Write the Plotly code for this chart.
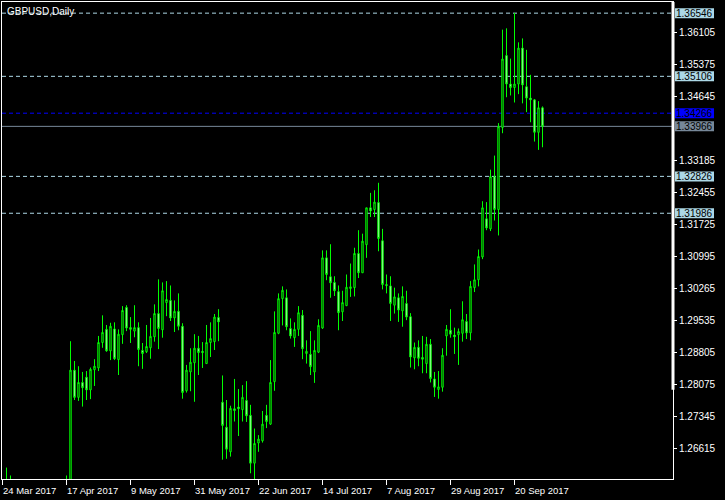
import plotly.graph_objects as go
import pandas as pd

# Daily bars (trading days) starting 24 Mar 2017
dates = [d.strftime("%Y-%m-%d") for d in pd.bdate_range("2017-03-24", periods=136)]

opens = [1.2475, 1.2485, 1.2575, 1.2445, 1.2415, 1.2465, 1.2550, 1.2490, 1.2435, 1.2480,
         1.2460, 1.2395, 1.2410, 1.2460, 1.2525, 1.2530, 1.2550, 1.2566, 1.2841, 1.2779,
         1.2813, 1.2825, 1.2796, 1.2842, 1.2846, 1.2904, 1.2934, 1.2885, 1.2935, 1.2865,
         1.2922, 1.2984, 1.2938, 1.2930, 1.2938, 1.2886, 1.2883, 1.2892, 1.2917, 1.2970,
         1.2933, 1.2995, 1.3000, 1.2960, 1.2975, 1.2941, 1.2794, 1.2837, 1.2858, 1.2891,
         1.2884, 1.2856, 1.2904, 1.2906, 1.2961, 1.2768, 1.2711, 1.2655, 1.2753, 1.2757,
         1.2751, 1.2772, 1.2738, 1.2629, 1.2675, 1.2680, 1.2738, 1.2718, 1.2815, 1.2925,
         1.3004, 1.3006, 1.2936, 1.2915, 1.2934, 1.2966, 1.2879, 1.2877, 1.2837, 1.2882,
         1.2937, 1.3097, 1.3054, 1.3041, 1.3020, 1.2974, 1.2988, 1.3027, 1.3029, 1.3107,
         1.3063, 1.3127, 1.3211, 1.3207, 1.3223, 1.3136, 1.3036, 1.3033, 1.2989, 1.3006,
         1.2976, 1.2993, 1.2963, 1.2869, 1.2893, 1.2870, 1.2856, 1.2900, 1.2821, 1.2797,
         1.2802, 1.2919, 1.2932, 1.2921, 1.2922, 1.2925, 1.2952, 1.2926, 1.3029, 1.3047,
         1.3099, 1.3186, 1.3163, 1.3282, 1.3207, 1.3394, 1.3558, 1.3493, 1.3485, 1.3493,
         1.3575, 1.3487, 1.3461, 1.3457, 1.3383, 1.3439]
highs = [1.2520, 1.2619, 1.2601, 1.2470, 1.2480, 1.2555, 1.2560, 1.2500, 1.2520, 1.2495,
         1.2470, 1.2420, 1.2480, 1.2535, 1.2585, 1.2560, 1.2601, 1.2907, 1.2862, 1.2850,
         1.2837, 1.2839, 1.2847, 1.2866, 1.2919, 1.2966, 1.2944, 1.2949, 1.2950, 1.2934,
         1.2987, 1.2989, 1.2962, 1.2989, 1.2950, 1.2903, 1.2944, 1.2960, 1.2991, 1.3048,
         1.3041, 1.3044, 1.3034, 1.3000, 1.3016, 1.2948, 1.2853, 1.2891, 1.2923, 1.2919,
         1.2905, 1.2944, 1.2950, 1.2969, 1.2980, 1.2829, 1.2773, 1.2760, 1.2821, 1.2798,
         1.2807, 1.2816, 1.2762, 1.2708, 1.2693, 1.2748, 1.2762, 1.2864, 1.2975, 1.3016,
         1.3032, 1.3025, 1.2959, 1.2950, 1.2987, 1.2978, 1.2909, 1.2930, 1.2909, 1.2957,
         1.3114, 1.3114, 1.3128, 1.3055, 1.3034, 1.3022, 1.3059, 1.3084, 1.3120, 1.3160,
         1.3152, 1.3211, 1.3245, 1.3251, 1.3268, 1.3163, 1.3059, 1.3055, 1.3029, 1.3016,
         1.3032, 1.3022, 1.2971, 1.2904, 1.2909, 1.2919, 1.2917, 1.2912, 1.2837, 1.2839,
         1.2891, 1.2944, 1.2980, 1.2938, 1.2936, 1.2998, 1.2969, 1.3044, 1.3082, 1.3116,
         1.3226, 1.3224, 1.3298, 1.3330, 1.3404, 1.3617, 1.3620, 1.3551, 1.3655, 1.3588,
         1.3597, 1.3571, 1.3514, 1.3459, 1.3454, 1.3442]
lows = [1.2460, 1.2475, 1.2440, 1.2375, 1.2395, 1.2440, 1.2470, 1.2415, 1.2420, 1.2440,
        1.2365, 1.2375, 1.2390, 1.2455, 1.2510, 1.2520, 1.2535, 1.2515, 1.2773, 1.2771,
        1.2758, 1.2773, 1.2775, 1.2805, 1.2839, 1.2892, 1.2883, 1.2864, 1.2864, 1.2830,
        1.2901, 1.2930, 1.2903, 1.2916, 1.2850, 1.2844, 1.2880, 1.2867, 1.2906, 1.2889,
        1.2915, 1.2964, 1.2953, 1.2928, 1.2932, 1.2776, 1.2790, 1.2793, 1.2769, 1.2830,
        1.2846, 1.2856, 1.2871, 1.2887, 1.2907, 1.2637, 1.2639, 1.2644, 1.2724, 1.2691,
        1.2724, 1.2723, 1.2606, 1.2589, 1.2655, 1.2676, 1.2709, 1.2716, 1.2794, 1.2923,
        1.2943, 1.2932, 1.2913, 1.2894, 1.2919, 1.2866, 1.2856, 1.2830, 1.2812, 1.2880,
        1.2935, 1.3046, 1.3006, 1.3010, 1.2932, 1.2953, 1.2987, 1.3008, 1.3009, 1.3051,
        1.3063, 1.3097, 1.3190, 1.3190, 1.3112, 1.3025, 1.3016, 1.2953, 1.2970, 1.2951,
        1.2940, 1.2955, 1.2847, 1.2843, 1.2850, 1.2834, 1.2834, 1.2813, 1.2780, 1.2776,
        1.2792, 1.2874, 1.2915, 1.2878, 1.2853, 1.2906, 1.2912, 1.2909, 1.3019, 1.3032,
        1.3094, 1.3160, 1.3158, 1.3182, 1.3148, 1.3381, 1.3463, 1.3467, 1.3451, 1.3470,
        1.3449, 1.3429, 1.3406, 1.3362, 1.3343, 1.3349]
closes = [1.2476, 1.2575, 1.2445, 1.2415, 1.2465, 1.2550, 1.2490, 1.2435, 1.2480, 1.2460,
          1.2395, 1.2410, 1.2460, 1.2525, 1.2530, 1.2550, 1.2566, 1.2841, 1.2779, 1.2813,
          1.2801, 1.2796, 1.2843, 1.2850, 1.2904, 1.2927, 1.2885, 1.2941, 1.2867, 1.2923,
          1.2977, 1.2937, 1.2934, 1.2938, 1.2888, 1.2879, 1.2895, 1.2918, 1.2970, 1.2936,
          1.3022, 1.3002, 1.2960, 1.2975, 1.2941, 1.2790, 1.2841, 1.2859, 1.2891, 1.2881,
          1.2881, 1.2904, 1.2913, 1.2962, 1.2951, 1.2715, 1.2661, 1.2754, 1.2749, 1.2753,
          1.2779, 1.2737, 1.2629, 1.2674, 1.2684, 1.2718, 1.2724, 1.2813, 1.2927, 1.3004,
          1.3023, 1.2940, 1.2919, 1.2934, 1.2972, 1.2890, 1.2884, 1.2849, 1.2886, 1.2943,
          1.3097, 1.3059, 1.3040, 1.3022, 1.2972, 1.2995, 1.3030, 1.3031, 1.3107, 1.3063,
          1.3135, 1.3211, 1.3204, 1.3224, 1.3141, 1.3036, 1.3034, 1.2993, 1.3008, 1.2978,
          1.3009, 1.2962, 1.2871, 1.2893, 1.2868, 1.2866, 1.2900, 1.2822, 1.2802, 1.2803,
          1.2875, 1.2934, 1.2923, 1.2917, 1.2929, 1.2956, 1.2926, 1.3032, 1.3047, 1.3100,
          1.3211, 1.3165, 1.3282, 1.3207, 1.3396, 1.3550, 1.3493, 1.3485, 1.3493, 1.3575,
          1.3491, 1.3461, 1.3457, 1.3383, 1.3439, 1.33966]

# axis labels
x_label_dates = ["2017-03-24", "2017-04-17", "2017-05-09", "2017-05-31", "2017-06-22",
                 "2017-07-14", "2017-08-07", "2017-08-29", "2017-09-20"]
x_label_text = ["24 Mar 2017", "17 Apr 2017", "9 May 2017", "31 May 2017", "22 Jun 2017",
                "14 Jul 2017", "7 Aug 2017", "29 Aug 2017", "20 Sep 2017"]
y_ticks = [1.26615, 1.27345, 1.28075, 1.28805, 1.29535, 1.30265, 1.30995, 1.31725,
           1.32455, 1.33185, 1.34645, 1.35375, 1.36105]

# horizontal price levels
level_prices = [1.36546, 1.35106, 1.34266, 1.33966, 1.32826, 1.31986]
level_colors = ["#add8e6", "#add8e6", "#0000ff", "#778899", "#add8e6", "#add8e6"]
level_dash = ["dash", "dash", "dash", "solid", "dash", "dash"]

fig = go.Figure(go.Candlestick(
    x=dates, open=opens, high=highs, low=lows, close=closes,
    increasing=dict(line=dict(color="#00ff00", width=1), fillcolor="#000000"),
    decreasing=dict(line=dict(color="#00ff00", width=1), fillcolor="#ffffff"),
    whiskerwidth=0, hoverinfo="skip", showlegend=False,
))

shapes = []
annotations = []
for p, c, d in zip(level_prices, level_colors, level_dash):
    shapes.append(dict(type="line", xref="paper", x0=0, x1=1, yref="y", y0=p, y1=p,
                       line=dict(color=c, width=1, dash="4px,3px" if d == "dash" else "solid"),
                       layer="below"))
    shapes.append(dict(type="rect", xref="paper", xsizemode="pixel", xanchor=1, x0=2, x1=41,
                       yref="y", ysizemode="pixel", yanchor=p, y0=-5, y1=5,
                       fillcolor=c, line=dict(width=0), layer="above"))
    annotations.append(dict(xref="paper", x=1, xanchor="center", xshift=21.5, yref="y", y=p,
                            yanchor="middle", text=f"{p:.5f}", showarrow=False,
                            font=dict(color="#000000", size=10)))

# thick segment of the price scale line
shapes.append(dict(type="line", xref="paper", x0=1, x1=1, yref="paper", y0=0.187, y1=1,
                   line=dict(color="white", width=3)))

for d, t in zip(x_label_dates, x_label_text):
    annotations.append(dict(xref="x", x=d, xanchor="left", xshift=-2, yref="paper", y=0,
                            yanchor="top", yshift=-4, text=t, showarrow=False,
                            font=dict(color="white", size=9.5)))

annotations.append(dict(xref="paper", x=0, xanchor="left", xshift=3, yref="paper", y=1,
                        yanchor="top", yshift=-2, text="GBPUSD,Daily", showarrow=False,
                        font=dict(color="white", size=10)))

fig.update_layout(
    width=725, height=500,
    margin=dict(l=2, r=52, t=2, b=21),
    paper_bgcolor="#000000", plot_bgcolor="#000000",
    font=dict(family="Liberation Sans, Arial, sans-serif", size=10, color="white"),
    boxgap=0.5,
    shapes=shapes, annotations=annotations,
    showlegend=False,
)
fig.update_xaxes(type="category", range=[-0.125, 167.625], rangeslider=dict(visible=False),
                 showgrid=False, zeroline=False, showline=True, mirror=True,
                 linecolor="white", linewidth=1, ticks="outside", ticklen=5,
                 tickcolor="white", tickwidth=1, tickvals=x_label_dates,
                 showticklabels=False, fixedrange=True)
fig.update_yaxes(side="right", range=[1.2593, 1.3680], tickvals=y_ticks, tickformat=".5f",
                 ticks="outside", ticklen=3, tickcolor="white", tickwidth=1,
                 showline=True, mirror=True, linecolor="white", linewidth=1,
                 showgrid=False, zeroline=False, fixedrange=True,
                 tickfont=dict(color="white", size=10))

fig.write_html("out.html", config={"displayModeBar": False},
               post_script="document.body.style.margin='0';document.body.style.background='#000';")
